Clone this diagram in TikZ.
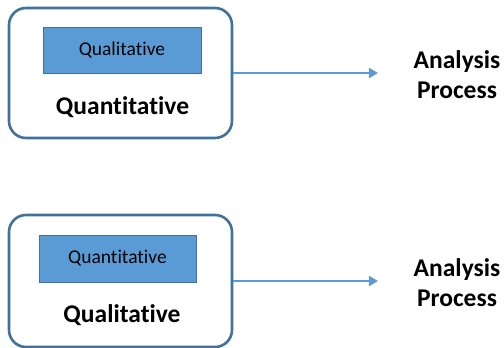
\documentclass[tikz,border=0pt]{standalone}
\usepackage{fontspec}
\setmainfont[Ligatures={NoCommon}]{Carlito}
\usetikzlibrary{
  arrows.meta,
  positioning,
}
\definecolor{boxline}{RGB}{65, 113, 156}
\definecolor{boxfill}{RGB}{91, 155, 213}
\tikzstyle{outer} = [
  draw=boxline,
  line width=2.6pt,
  rounded corners=17pt,
  fill=white,
  inner sep=0pt,
]
\tikzstyle{inner} = [
  draw=boxline,
  line width=0.6pt,
  fill=boxfill,
  inner sep=0pt,
  font=\fontsize{19.5}{22}\selectfont,
]
\tikzstyle{label} = [
  font=\fontsize{25.5}{30}\selectfont\bfseries,
  align=center,
  inner sep=0pt,
]
\tikzstyle{arrow} = [
  -{Triangle[length=9pt,width=10pt]},
  line width=2.8pt,
  boxfill,
]

\begin{document}
\begin{tikzpicture}[x=1pt,y=1pt]

        \useasboundingbox (0,0) rectangle (504,348);

        %% top row
        \node [outer, minimum width=223pt, minimum height=130pt] (quantbox) at (120.5, 275) {};
        \node [inner, minimum width=158pt, minimum height=46pt] (qualin) at (122, 298) {Qualitative};
        \node [label] (quantlbl) at (122.5, 241) {Quantitative};
        \coordinate (quantend) at (378, 275);
        \node [label] (analysistop) at (457, 273) {Analysis\\Process};
        \draw [arrow] (quantbox.east) -- (quantend);

        %% bottom row
        \node [outer, minimum width=223pt, minimum height=132pt] (qualbox) at (120.5, 67) {};
        \node [inner, minimum width=157pt, minimum height=47pt] (quantin) at (117.5, 89.5) {Quantitative};
        \node [label] (quallbl) at (122, 33) {Qualitative};
        \coordinate (qualend) at (378, 67);
        \node [label] (analysisbot) at (457, 65) {Analysis\\Process};
        \draw [arrow] (qualbox.east) -- (qualend);

      \end{tikzpicture}
\end{document}
